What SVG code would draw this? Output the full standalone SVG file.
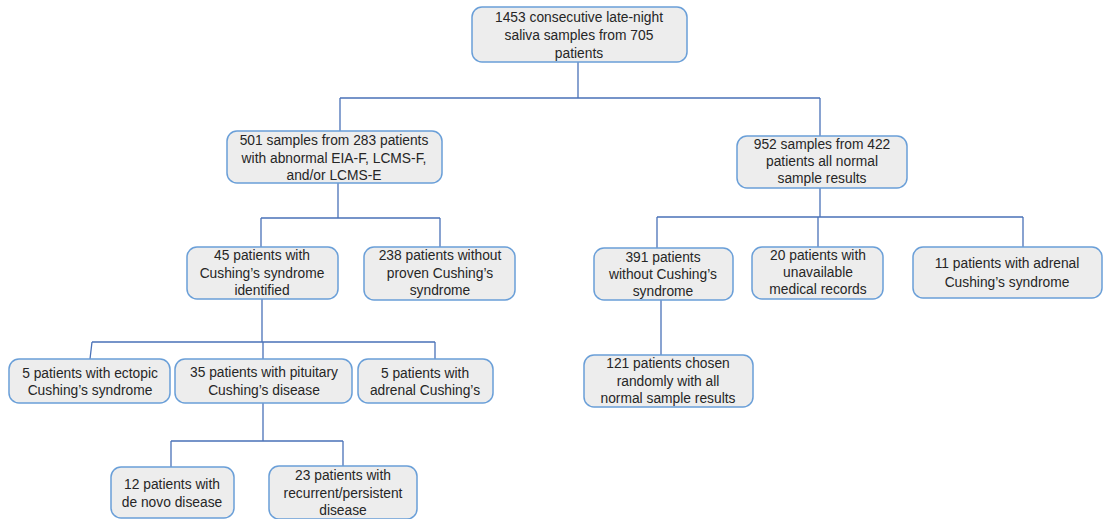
<svg xmlns="http://www.w3.org/2000/svg" width="1105" height="519" viewBox="0 0 1105 519">
<style>
.box{fill:#ededed;stroke:#6a9fd8;stroke-width:1.5}
.t{font-family:"Liberation Sans",Arial,sans-serif;font-size:13.8px;fill:#262626;text-anchor:middle}
.c{fill:none;stroke:#4a72b8;stroke-width:1.3}
</style>
<rect width="1105" height="519" fill="#ffffff"/>
<g id="connectors">
<path class="c" d="M578 62V98M340 98H820M340 98V131M820 98V136"/>
<path class="c" d="M338 183V218M261 218H440M261 218V247M440 218V247"/>
<path class="c" d="M820 183V217M657 217H1023M657 217V248M818 217V247M1023 217V247"/>
<path class="c" d="M262 299V342M92 342H435M92 342L90 359M435 342V359M263 342V359"/>
<path class="c" d="M263 403V441M171 441H343M171 441V467M343 441V466"/>
<path class="c" d="M661 300V355"/>
</g>
<g id="n1"><rect class="box" x="472" y="7" width="215" height="55" rx="10"/>
<text class="t" x="579" y="22">1453 consecutive late-night</text><text class="t" x="579" y="40">saliva samples from 705</text><text class="t" x="579" y="58">patients</text></g>
<g id="n2"><rect class="box" x="227" y="131" width="215" height="52" rx="10"/>
<text class="t" x="334" y="145">501 samples from 283 patients</text><text class="t" x="334" y="163">with abnormal EIA-F, LCMS-F,</text><text class="t" x="334" y="180">and/or LCMS-E</text></g>
<g id="n3"><rect class="box" x="737" y="136" width="170" height="52" rx="10"/>
<text class="t" x="822" y="149">952 samples from 422</text><text class="t" x="822" y="166">patients all normal</text><text class="t" x="822" y="183">sample results</text></g>
<g id="n4"><rect class="box" x="187" y="247" width="151" height="52" rx="10"/>
<text class="t" x="262" y="260">45 patients with</text><text class="t" x="262" y="278">Cushing’s syndrome</text><text class="t" x="262" y="295">identified</text></g>
<g id="n5"><rect class="box" x="364" y="247" width="151" height="53" rx="10"/>
<text class="t" x="440" y="260">238 patients without</text><text class="t" x="440" y="278">proven Cushing’s</text><text class="t" x="440" y="295">syndrome</text></g>
<g id="n6"><rect class="box" x="594" y="248" width="139" height="52" rx="10"/>
<text class="t" x="663" y="262">391 patients</text><text class="t" x="663" y="279">without Cushing’s</text><text class="t" x="663" y="296">syndrome</text></g>
<g id="n7"><rect class="box" x="752" y="247" width="131" height="52" rx="10"/>
<text class="t" x="818" y="260">20 patients with</text><text class="t" x="818" y="277">unavailable</text><text class="t" x="818" y="294">medical records</text></g>
<g id="n8"><rect class="box" x="913" y="247" width="189" height="51" rx="10"/>
<text class="t" x="1007" y="268">11 patients with adrenal</text><text class="t" x="1007" y="287">Cushing’s syndrome</text></g>
<g id="n9"><rect class="box" x="584" y="355" width="169" height="52" rx="10"/>
<text class="t" x="668" y="368">121 patients chosen</text><text class="t" x="668" y="386">randomly with all</text><text class="t" x="668" y="403">normal sample results</text></g>
<g id="n10"><rect class="box" x="9" y="359" width="161" height="44" rx="10"/>
<text class="t" x="90" y="378">5 patients with ectopic</text><text class="t" x="90" y="395">Cushing’s syndrome</text></g>
<g id="n11"><rect class="box" x="175" y="359" width="177" height="44" rx="10"/>
<text class="t" x="264" y="377">35 patients with pituitary</text><text class="t" x="264" y="395">Cushing’s disease</text></g>
<g id="n12"><rect class="box" x="358" y="359" width="135" height="44" rx="10"/>
<text class="t" x="425" y="378">5 patients with</text><text class="t" x="425" y="395">adrenal Cushing’s</text></g>
<g id="n13"><rect class="box" x="111" y="467" width="123" height="51" rx="10"/>
<text class="t" x="172" y="489">12 patients with</text><text class="t" x="172" y="507">de novo disease</text></g>
<g id="n14"><rect class="box" x="269" y="466" width="148" height="53" rx="10"/>
<text class="t" x="343" y="480">23 patients with</text><text class="t" x="343" y="498">recurrent/persistent</text><text class="t" x="343" y="515">disease</text></g>
</svg>
